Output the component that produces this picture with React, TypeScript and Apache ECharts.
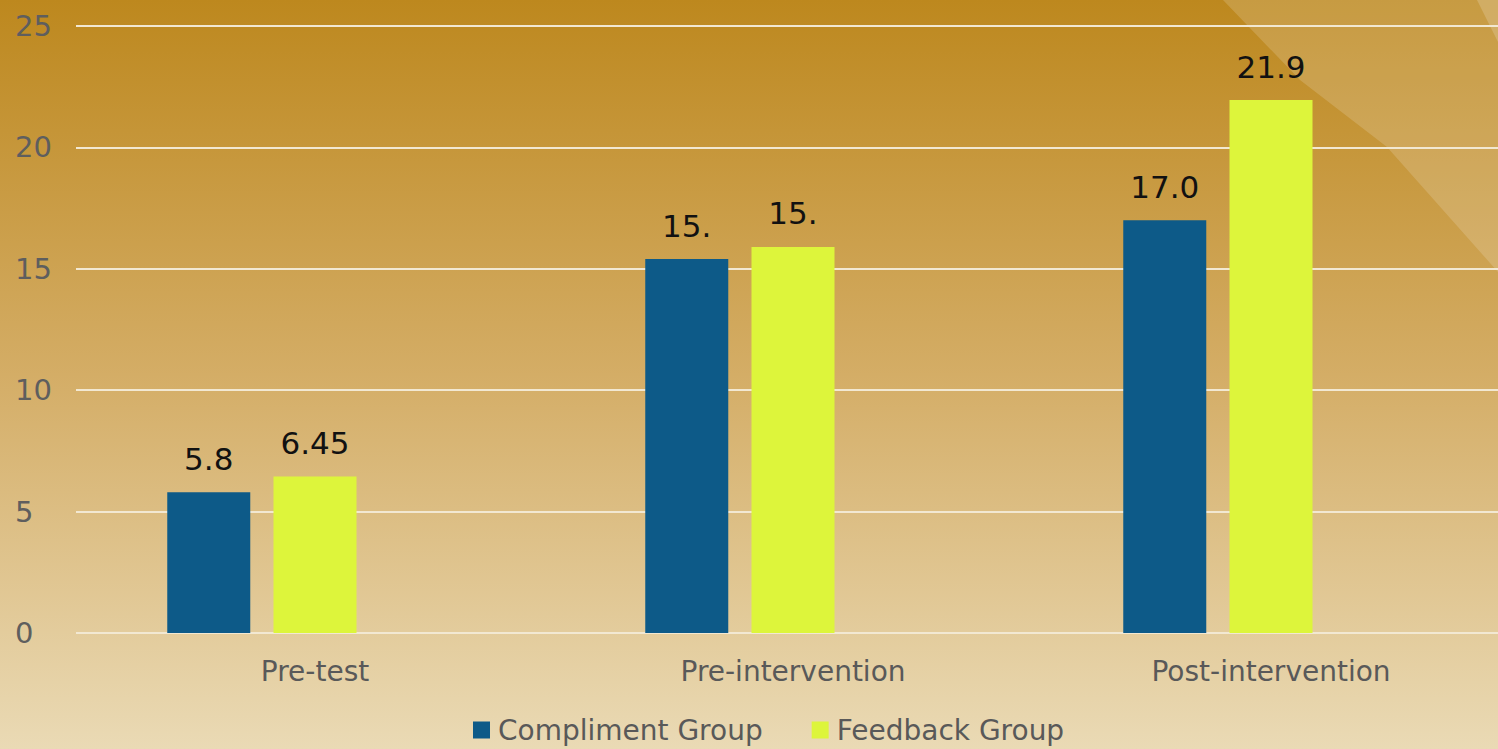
import React, { useEffect, useRef } from "react";
import * as echarts from "echarts";

const categories = ["Pre-test", "Pre-intervention", "Post-intervention"];
const complimentValues = [5.8, 15.4, 17.0];
const feedbackValues = [6.45, 15.9, 21.95];
const complimentLabels = ["5.8", "15.", "17.0"];
const feedbackLabels = ["6.45", "15.", "21.9"];
const seriesNames = ["Compliment Group", "Feedback Group"];

const FONT = "'DejaVu Sans', sans-serif";

export default function App() {
  const ref = useRef<HTMLDivElement>(null);
  useEffect(() => {
    if (!ref.current) return;
    document.body.style.overflow = "hidden";
    const chart = echarts.init(ref.current, null, { renderer: "svg" });
    const labelStyle = {
      show: true,
      position: "top" as const,
      distance: 18,
      color: "#111111",
      fontSize: 31,
      fontFamily: FONT,
    };
    chart.setOption({
      animation: false,
      backgroundColor: {
        type: "linear",
        x: 0,
        y: 0,
        x2: 0,
        y2: 1,
        colorStops: [
          { offset: 0, color: "#BD881E" },
          { offset: 0.5, color: "#D4AD66" },
          { offset: 1, color: "#EADAB5" },
        ],
      },
      graphic: [
        {
          type: "polygon",
          z: -10,
          shape: {
            points: [
              [1223, 0],
              [1300, 80],
              [1387, 147],
              [1498, 272],
              [1510, 286],
              [1510, 0],
            ],
          },
          style: { fill: "rgba(255,255,255,0.16)" },
        },
        {
          type: "polygon",
          z: -9,
          shape: { points: [[1477, 0], [1510, 0], [1510, 66]] },
          style: { fill: "rgba(255,255,255,0.18)" },
        },
      ],
      grid: { left: 76, right: 0, top: 26, bottom: 116, containLabel: false },
      legend: {
        data: seriesNames,
        left: 468,
        top: 711,
        itemWidth: 17,
        itemHeight: 17,
        itemGap: 49,
        icon: "rect",
        textStyle: {
          color: "#595959",
          fontSize: 28,
          fontFamily: FONT,
          padding: [0, 0, 0, 3],
        },
      },
      xAxis: {
        type: "category",
        data: categories,
        axisLine: { show: false },
        axisTick: { show: false },
        axisLabel: {
          color: "#595959",
          fontSize: 28,
          fontFamily: FONT,
          margin: 24,
        },
      },
      yAxis: {
        type: "value",
        min: 0,
        max: 25,
        interval: 5,
        axisLine: { show: false },
        axisTick: { show: false },
        splitLine: { lineStyle: { color: "#F2E8D2", width: 2 } },
        axisLabel: {
          color: "#5E5E5E",
          fontSize: 29,
          fontFamily: FONT,
          align: "left",
          margin: 61,
        },
      },
      series: [
        {
          name: seriesNames[0],
          type: "bar",
          barWidth: 83,
          barGap: "28%",
          data: complimentValues,
          itemStyle: { color: "#0D5A88" },
          label: {
            ...labelStyle,
            formatter: (p: any) => complimentLabels[p.dataIndex],
          },
        },
        {
          name: seriesNames[1],
          type: "bar",
          barWidth: 83,
          barGap: "28%",
          data: feedbackValues,
          itemStyle: { color: "#DDF53B" },
          label: {
            ...labelStyle,
            formatter: (p: any) => feedbackLabels[p.dataIndex],
          },
        },
        {
          name: "spacer",
          type: "bar",
          barWidth: 83,
          barGap: "28%",
          data: [null, null, null],
          silent: true,
        },
      ],
    });
    return () => chart.dispose();
  }, []);
  return (
    <div
      ref={ref}
      style={{ position: "fixed", left: 0, top: 0, width: 1510, height: 749 }}
    />
  );
}
